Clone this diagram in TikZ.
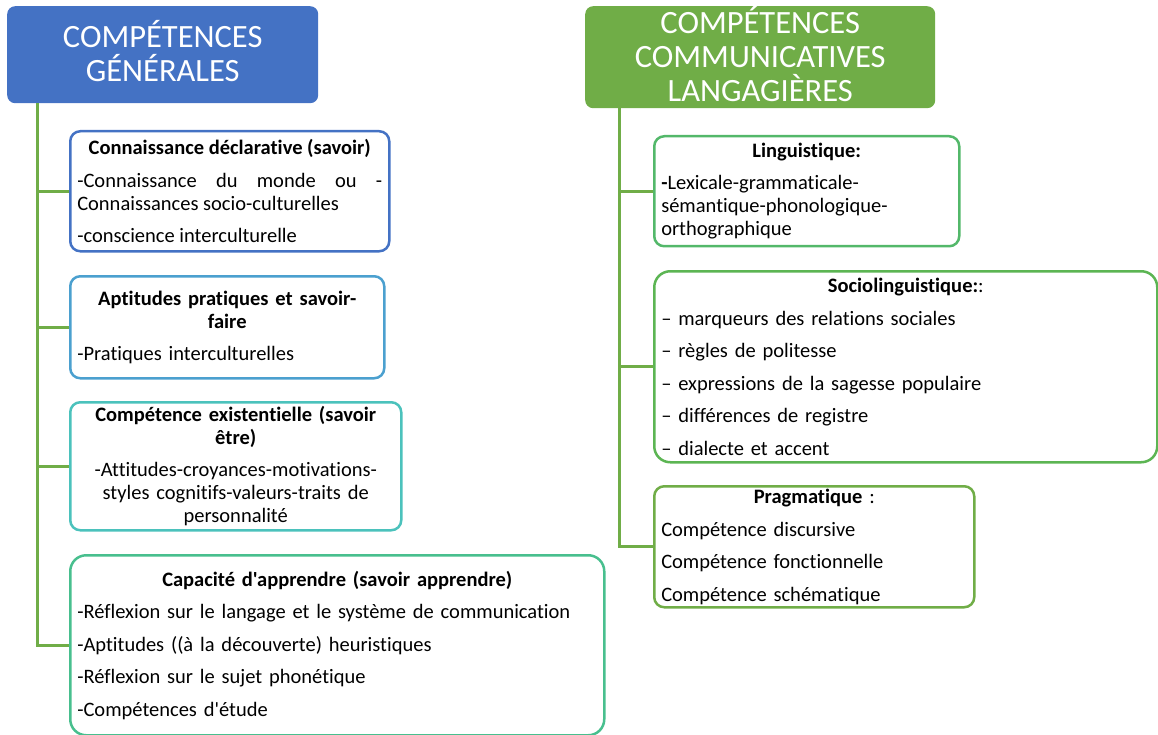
\documentclass[tikz,border=0pt]{standalone}
\usepackage{fontspec}
\setmainfont{Carlito}[Ligatures={TeXOff,NoCommon}]
\usepackage{tikz}
\hyphenpenalty=10000

\begin{document}
\begin{tikzpicture}[x=1pt,y=-1pt,
  branch/.style={draw=trunk,line width=3pt},
  head/.style={fill=#1,text=white,rounded corners=8pt,anchor=north west,inner sep=0pt,align=center,font=\headfont},
  box/.style={draw=#1,fill=white,line width=2.5pt,rounded corners=10pt,anchor=north west,inner xsep=7pt,inner ysep=0pt,font=\boxfont},
  boxsize/.style n args={3}{minimum width=#1,minimum height=#2,text width=#3}]
\definecolor{gen}{HTML}{4472C4} \definecolor{trunk}{HTML}{70AD47}
\definecolor{gentwo}{HTML}{4BA0CF} \definecolor{genthree}{HTML}{4BC2BC}
\definecolor{genfour}{HTML}{48BF8E} \definecolor{ling}{HTML}{53B86A}
\definecolor{socio}{HTML}{5CB553} \definecolor{prag}{HTML}{70AD47}
\def\headfont{\fontsize{32.5}{34}\selectfont}
\def\boxfont{\fontsize{20.5}{23}\selectfont\parindent=0pt\parskip=9.5pt}
\useasboundingbox (0,0) rectangle (1158,735);
\node [head=gen,text depth=8pt,minimum width=311pt,minimum height=97pt] (gen) at (7,6) {COMPÉTENCES\\GÉNÉRALES};
\node [head=trunk,text depth=6pt,minimum width=350pt,minimum height=102pt] (comm) at (585,6) {COMPÉTENCES\\COMMUNICATIVES\\LANGAGIÈRES};
\node [box=gen,align=justify,boxsize={319pt}{120pt}{305pt}] (savoir) at (69,130)
  {{\centering\bfseries Connaissance déclarative (savoir)\par}
   -Connaissance du monde ou -\linebreak Connaissances socio-culturelles\par
   -conscience interculturelle};
\node [box=gentwo,boxsize={314pt}{102pt}{300pt}] (pratique) at (69,275)
  {{\centering\bfseries Aptitudes pratiques et savoir-\\faire\par}
   \raggedright -Pratiques interculturelles};
\node [box=genthree,boxsize={331pt}{128pt}{317pt}] (etre) at (69,401)
  {{\centering\bfseries Compétence existentielle (savoir\\être)\par}
   {\centering -Attitudes-croyances-motivations-\\styles cognitifs-valeurs-traits de\\personnalité\par}};
\node [box=genfour,rounded corners=16pt,boxsize={534pt}{180pt}{520pt}] (apprendre) at (69,554)
  {{\centering\bfseries Capacité d'apprendre (savoir apprendre)\par}
   \raggedright -Réflexion sur le langage et le système de communication\par
   -Aptitudes ((à la découverte) heuristiques\par
   -Réflexion sur le sujet phonétique\par
   -Compétences d'étude};
\node [box=ling,boxsize={305pt}{110pt}{291pt}] (lingu) at (653,135)
  {{\centering\bfseries Linguistique:\par}
   \raggedright\textbf{-}Lexicale-grammaticale-\\sémantique-phonologique-\\orthographique};
\node [box=socio,rounded corners=16pt,boxsize={503pt}{191pt}{489pt}] (socioling) at (653,270)
  {{\centering\textbf{Sociolinguistique:}:\par}
   \raggedright – marqueurs des relations sociales\par
   – règles de politesse\par
   – expressions de la sagesse populaire\par
   – différences de registre\par
   – dialecte et accent};
\node [box=prag,boxsize={320pt}{121pt}{306pt}] (pragma) at (653,485)
  {{\centering\textbf{Pragmatique} :\par}
   \raggedright Compétence discursive\par
   Compétence fonctionnelle\par
   Compétence schématique};
\foreach \n in {savoir,pratique,etre,apprendre}
  \draw [branch] ([xshift=30pt]gen.south west) |- (\n.west);
\foreach \n in {lingu,socioling,pragma}
  \draw [branch] ([xshift=34pt]comm.south west) |- (\n.west);
\end{tikzpicture}
\end{document}
